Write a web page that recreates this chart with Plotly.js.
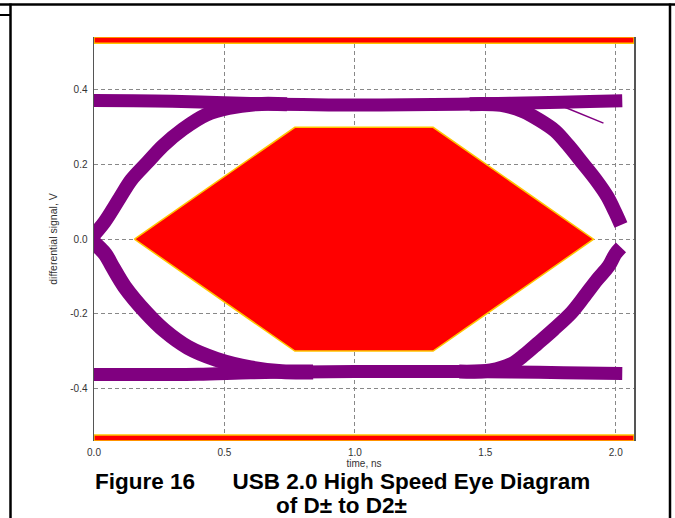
<!DOCTYPE html>
<html><head><meta charset="utf-8">
<script src="https://cdn.plot.ly/plotly-3.0.1.min.js"></script>
<style>html,body{margin:0;padding:0;background:#fff;} #chart{width:675px;height:518px;}</style>
</head><body><div id="chart"></div>
<script>
// axis ticks
const xTickVals = [0, 0.5, 1.0, 1.5, 2.0];
const xTickText = ['0.0', '0.5', '1.0', '1.5', '2.0'];
const yTickVals = [-0.4, -0.2, 0.0, 0.2, 0.4];
const yTickText = ['-0.4', '-0.2', '0.0', '0.2', '0.4'];
const xRange = [0, 2.07];
const yRange = [-0.541, 0.542];

// eye traces (time ns, differential signal V)
const topRailT = [-0.01, 0.15, 0.3, 0.5, 0.7, 0.9, 1.1, 1.3, 1.5, 1.7, 1.9, 2.025];
const topRailV = [0.372, 0.371, 0.370, 0.366, 0.362, 0.360, 0.360, 0.361, 0.363, 0.366, 0.369, 0.371];
const botRailT = [-0.01, 0.2, 0.4, 0.6, 0.8, 1.0, 1.2, 1.4, 1.6, 1.8, 2.025];
const botRailV = [-0.363, -0.363, -0.362, -0.358, -0.356, -0.355, -0.355, -0.355, -0.356, -0.358, -0.360];
const riseLeftT = [-0.015, 0.04, 0.098, 0.143, 0.205, 0.264, 0.341, 0.431, 0.516, 0.62, 0.74];
const riseLeftV = [0.0, 0.046, 0.110, 0.159, 0.206, 0.250, 0.295, 0.334, 0.352, 0.362, 0.362];
const fallLeftT = [-0.015, 0.043, 0.071, 0.117, 0.20, 0.27, 0.36, 0.469, 0.60, 0.72, 0.84];
const fallLeftV = [0.0, -0.040, -0.074, -0.127, -0.197, -0.245, -0.290, -0.322, -0.345, -0.355, -0.356];
const fallRightT = [1.44, 1.56, 1.645, 1.71, 1.768, 1.82, 1.873, 1.924, 1.968, 1.998, 2.02];
const fallRightV = [0.362, 0.360, 0.343, 0.318, 0.290, 0.250, 0.204, 0.159, 0.114, 0.072, 0.038];
const riseRightT = [1.40, 1.52, 1.60, 1.65, 1.70, 1.762, 1.83, 1.879, 1.928, 1.973, 1.998, 2.02];
const riseRightV = [-0.355, -0.352, -0.335, -0.310, -0.280, -0.242, -0.197, -0.154, -0.109, -0.072, -0.040, -0.022];
const strayT = [1.80, 1.953];
const strayV = [0.355, 0.311];

// mask (template)
const maskT = [0.155, 0.77, 1.30, 1.915, 1.30, 0.77, 0.155];
const maskV = [0.0, 0.30, 0.30, 0.0, -0.30, -0.30, 0.0];
const maskLevel = 0.525;

const purple = '#800080';
function band(t, v, w) {
  return {x: t, y: v, type: 'scatter', mode: 'lines',
          line: {color: purple, width: w, shape: 'spline', smoothing: 0.9},
          hoverinfo: 'skip', showlegend: false};
}
function maskPoly(t, v) {
  return {x: t, y: v, type: 'scatter', mode: 'lines', fill: 'toself', fillcolor: '#ff0000',
          line: {color: '#ffc400', width: 1.5}, hoverinfo: 'skip', showlegend: false};
}
const topBarT = [xRange[0], xRange[1], xRange[1], xRange[0], xRange[0]];
const topBarV = [maskLevel, maskLevel, yRange[1], yRange[1], maskLevel];
const botBarV = [-maskLevel, -maskLevel, yRange[0], yRange[0], -maskLevel];

const data = [
  band(topRailT, topRailV, 13),
  band(botRailT, botRailV, 13),
  band(riseLeftT, riseLeftV, 14),
  band(fallLeftT, fallLeftV, 15),
  band(fallRightT, fallRightV, 14),
  band(riseRightT, riseRightV, 14),
  band(strayT, strayV, 1.5),
  maskPoly(maskT, maskV),
  maskPoly(topBarT, topBarV),
  maskPoly(topBarT, botBarV)
];

const L = 94, R = 634, T = 37, B = 441;
function px(x) { return (x - L) / (R - L); }
function py(y) { return (B - y) / (B - T); }
const frame = {type: 'line', xref: 'paper', yref: 'paper', line: {color: '#000', width: 2.5}};

const tickFont = {family: 'Liberation Sans, Arial, sans-serif', size: 10, color: '#333'};
const capFont = {family: 'Liberation Sans, Arial, sans-serif', size: 22.5, color: '#000', weight: 'bold'};
const layout = {
  width: 675, height: 518,
  margin: {l: L, r: 675 - R, t: T, b: 518 - B, pad: 0},
  paper_bgcolor: '#fff', plot_bgcolor: '#fff',
  showlegend: false,
  xaxis: {
    range: xRange, tickmode: 'array', tickvals: xTickVals, ticktext: xTickText,
    showgrid: true, gridcolor: '#888', griddash: '4px,3px', gridwidth: 1,
    zeroline: false, showline: false, ticks: '', tickfont: tickFont, ticklabelstandoff: 4,
    title: {text: 'time, ns', font: tickFont, standoff: 0},
    layer: 'below traces', fixedrange: true
  },
  yaxis: {
    range: yRange, tickmode: 'array', tickvals: yTickVals, ticktext: yTickText,
    showgrid: true, gridcolor: '#888', griddash: '4px,3px', gridwidth: 1,
    zeroline: false, showline: true, mirror: true, linecolor: '#555', linewidth: 1.5,
    ticks: '', tickfont: tickFont, ticklabelstandoff: 3,
    title: {text: 'differential signal, V', font: {family: 'Liberation Sans, Arial, sans-serif', size: 10.5, color: '#333'}, standoff: 10},
    layer: 'below traces', fixedrange: true
  },
  shapes: [
    Object.assign({}, frame, {x0: px(0), x1: px(675), y0: py(4.5), y1: py(4.5)}),
    Object.assign({}, frame, {x0: px(0), x1: px(10.5), y0: py(15), y1: py(15), line: {color: '#000', width: 2}}),
    Object.assign({}, frame, {x0: px(10.5), x1: px(10.5), y0: py(3.5), y1: py(518)}),
    Object.assign({}, frame, {x0: px(670), x1: px(670), y0: py(3.5), y1: py(518)})
  ],
  annotations: [
    {xref: 'paper', yref: 'paper', x: px(342), y: py(481), xanchor: 'center', yanchor: 'middle', showarrow: false,
     text: 'Figure 16\u00a0\u00a0\u00a0\u00a0\u00a0 USB 2.0 High Speed Eye Diagram', font: capFont},
    {xref: 'paper', yref: 'paper', x: px(341), y: py(505.5), xanchor: 'center', yanchor: 'middle', showarrow: false,
     text: 'of D\u00b1 to D2\u00b1', font: capFont}
  ]
};
Plotly.newPlot('chart', data, layout, {displayModeBar: false, staticPlot: true});
</script></body></html>
